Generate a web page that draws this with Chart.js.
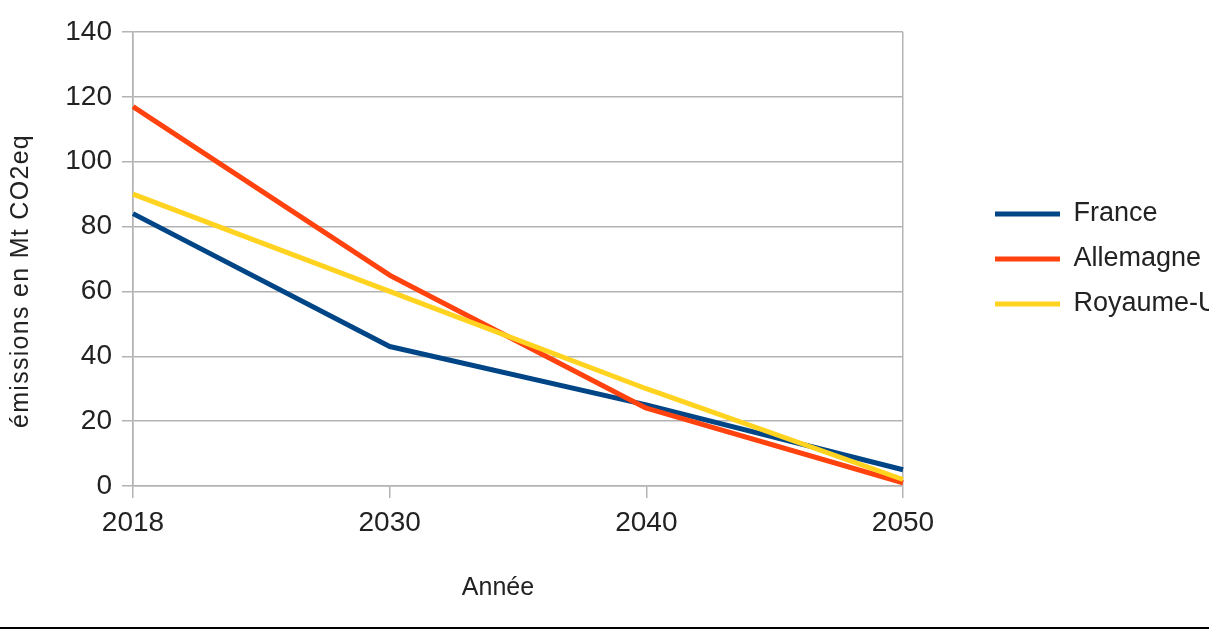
<!DOCTYPE html>
<html>
<head>
<meta charset="utf-8">
<script src="https://cdn.jsdelivr.net/npm/chart.js@4/dist/chart.umd.min.js"></script>
<style>
  html, body { margin: 0; padding: 0; background: #fff; overflow: hidden; width: 1209px; height: 630px; }
  #wrap { width: 1239px; height: 627px; }
  #rule { width: 1209px; height: 2px; background: #000; }
</style>
</head>
<body>
<div id="wrap"><canvas id="c" width="1239" height="627"></canvas></div>
<div id="rule"></div>
<script>
// Emission trajectories, Mt CO2eq
const years = ['2018', '2030', '2040', '2050'];
const france = [84, 43, 25, 5];
const allemagne = [117, 65, 24, 1];
const royaumeUni = [90, 60, 30, 2];
const seriesNames = ['France', 'Allemagne', 'Royaume-Uni'];
const yMin = 0, yMax = 140, yStep = 20;
const yTitle = 'émissions en Mt CO2eq';
const xTitle = 'Année';

const FONT = '"Liberation Sans", Arial, Helvetica, sans-serif';
const TEXT = '#222';
const GRID = '#b3b3b3';
const LEGEND_WIDTH = 262;

Chart.defaults.font.family = FONT;
Chart.defaults.color = TEXT;

// Axis titles, placed relative to the plot area
const axisTitles = {
  id: 'axisTitles',
  afterDraw(chart) {
    const { ctx, chartArea } = chart;
    ctx.save();
    ctx.fillStyle = TEXT;
    ctx.textAlign = 'center';
    ctx.textBaseline = 'alphabetic';
    ctx.font = '25px ' + FONT;
    ctx.letterSpacing = '1.3px';
    ctx.translate(28, (chartArea.top + chartArea.bottom) / 2 + 22);
    ctx.rotate(-Math.PI / 2);
    ctx.fillText(yTitle, 0, 0);
    ctx.restore();

    ctx.save();
    ctx.fillStyle = TEXT;
    ctx.textAlign = 'center';
    ctx.textBaseline = 'alphabetic';
    ctx.font = '25px ' + FONT;
    ctx.fillText(xTitle, (chartArea.left + chartArea.right) / 2 - 20, chartArea.bottom + 109);
    ctx.restore();
  }
};

// Give the side legend a fixed box width so long labels run past the edge
const legendWidth = {
  id: 'legendWidth',
  beforeLayout(chart) {
    const lg = chart.legend;
    if (lg && !lg.__fixedWidth) {
      const fit = lg.fit.bind(lg);
      lg.fit = function () { fit(); this.width = LEGEND_WIDTH; };
      lg.__fixedWidth = true;
    }
  }
};

const lastIndex = years.length - 1;

new Chart(document.getElementById('c'), {
  type: 'line',
  data: {
    labels: years,
    datasets: [
      { label: seriesNames[0], data: france, borderColor: '#004586', backgroundColor: '#004586', borderWidth: 5, order: 3 },
      { label: seriesNames[1], data: allemagne, borderColor: '#ff420e', backgroundColor: '#ff420e', borderWidth: 5, order: 2 },
      { label: seriesNames[2], data: royaumeUni, borderColor: '#ffd320', backgroundColor: '#ffd320', borderWidth: 5, order: 1 }
    ]
  },
  options: {
    responsive: false,
    animation: false,
    devicePixelRatio: 1,
    layout: { padding: { top: 32, left: 0, right: 0, bottom: 0 } },
    elements: {
      line: { borderWidth: 5, tension: 0, borderJoinStyle: 'round', borderCapStyle: 'butt' },
      point: { radius: 0, hoverRadius: 0 }
    },
    scales: {
      x: {
        type: 'category',
        offset: false,
        grid: {
          color: (c) => (c.index === 0 || c.index === lastIndex) ? GRID : 'rgba(0,0,0,0)',
          tickColor: GRID,
          lineWidth: 1.5,
          tickLength: 12,
          drawTicks: true
        },
        border: { color: GRID, width: 1.5 },
        ticks: { font: { size: 28 }, color: TEXT, padding: 8, maxRotation: 0, autoSkip: false },
        afterFit(s) { s.height = 141; }
      },
      y: {
        min: yMin,
        max: yMax,
        grid: { color: GRID, lineWidth: 1.5, tickLength: 11, drawTicks: true },
        border: { color: GRID, width: 1.5 },
        ticks: { stepSize: yStep, font: { size: 28 }, color: TEXT, padding: 10 },
        afterFit(s) { s.width = 133; }
      },
      gap: {
        type: 'linear',
        position: 'right',
        display: true,
        grid: { display: false, drawTicks: false },
        border: { display: false },
        ticks: { display: false },
        afterFit(s) { s.width = 74; }
      }
    },
    plugins: {
      legend: {
        position: 'right',
        fullSize: false,
        labels: {
          usePointStyle: true,
          pointStyle: 'line',
          pointStyleWidth: 65,
          font: { size: 27 },
          color: TEXT,
          padding: 18,
          sort: (a, b) => a.datasetIndex - b.datasetIndex
        }
      },
      tooltip: { enabled: false },
      title: { display: false }
    }
  },
  plugins: [legendWidth, axisTitles]
});
</script>
</body>
</html>
